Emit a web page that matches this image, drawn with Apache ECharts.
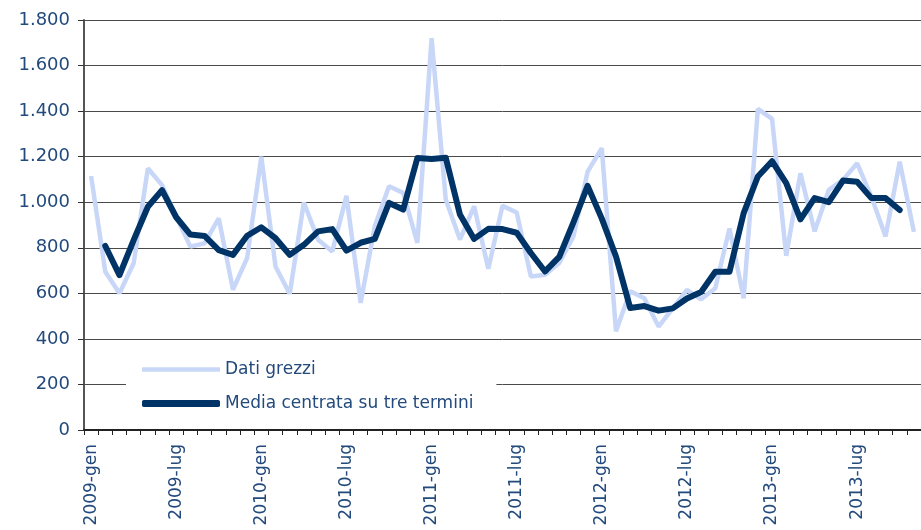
<!DOCTYPE html>
<html>
<head>
<meta charset="utf-8">
<script src="https://cdn.jsdelivr.net/npm/echarts@6/dist/echarts.min.js"></script>
<style>html,body{margin:0;padding:0;background:#fff;}#c{width:921px;height:530px;}</style>
</head>
<body>
<div id="c"></div>
<script>
const months = ['gen','feb','mar','apr','mag','giu','lug','ago','set','ott','nov','dic'];
const years = [2009, 2010, 2011, 2012, 2013];
const categories = [];
years.forEach(y => months.forEach(m => categories.push(y + '-' + m)));
const shownCategories = categories.slice(0, 59);

const rawData = [1115, 695, 600, 732, 1149, 1075, 936, 805, 820, 929,
  616, 755, 1200, 718, 598, 999, 835, 784, 1028, 558,
  895, 1070, 1041, 822, 1720, 1012, 836, 982, 708, 984,
  955, 674, 682, 733, 850, 1134, 1237, 433, 609, 578,
  454, 534, 615, 574, 622, 885, 578, 1410, 1366, 765,
  1127, 872, 1054, 1098, 1171, 1025, 850, 1178, 870];

const avgData = [null, 808, 680, 834, 980, 1053, 934, 858, 852, 790,
  769, 853, 890, 842, 769, 813, 872, 882, 788, 822,
  839, 997, 968, 1194, 1190, 1195, 946, 839, 883, 882,
  866, 777, 696, 760, 912, 1072, 928, 762, 536, 544,
  524, 534, 577, 606, 695, 695, 952, 1113, 1180, 1084,
  925, 1018, 1000, 1095, 1090, 1018, 1018, 966, null];

const yTicks = [0, 200, 400, 600, 800, 1000, 1200, 1400, 1600, 1800];
const seriesNames = ['Dati grezzi', 'Media centrata su tre termini'];

const navy = '#003366';
const light = '#C8D7F8';
const textColor = '#234A7C';
const font = 'DejaVu Sans';

const chart = echarts.init(document.getElementById('c'), null, {renderer: 'canvas'});
chart.setOption({
  animation: false,
  backgroundColor: '#fff',
  grid: {left: 84, top: 20, bottom: 100, right: -14.4, containLabel: false},
  xAxis: {
    type: 'category',
    data: shownCategories,
    boundaryGap: true,
    axisLine: {show: true, lineStyle: {color: '#222', width: 2}},
    axisTick: {show: true, interval: 0, length: 5, lineStyle: {color: '#222', width: 1}},
    axisLabel: {interval: 5, rotate: 90, margin: 14, color: textColor, fontFamily: font, fontSize: 17}
  },
  yAxis: {
    type: 'value',
    min: yTicks[0],
    max: yTicks[yTicks.length - 1],
    interval: 200,
    axisLine: {show: true, lineStyle: {color: '#555', width: 2}},
    axisTick: {show: true, length: 6, lineStyle: {color: '#333', width: 1}},
    axisLabel: {
      margin: 14, color: textColor, fontFamily: font, fontSize: 18,
      formatter: v => v >= 1000 ? Math.floor(v / 1000) + '.' + String(v % 1000).padStart(3, '0') : String(v)
    },
    splitLine: {show: true, lineStyle: {color: '#4a4a4a', width: 1}}
  },
  legend: [
    {
      orient: 'vertical',
      left: 142,
      top: 361,
      padding: 0,
      itemWidth: 78,
      itemHeight: 4.5,
      icon: 'rect',
      itemGap: 3,
      textStyle: {color: textColor, fontFamily: font, fontSize: 17},
      data: [seriesNames[0]]
    },
    {
      orient: 'vertical',
      left: 126,
      top: 377,
      padding: [18, 23, 9, 16],
      backgroundColor: '#fff',
      itemWidth: 78,
      itemHeight: 7,
      icon: 'roundRect',
      textStyle: {color: textColor, fontFamily: font, fontSize: 17},
      data: [seriesNames[1]]
    }
  ],
  series: [
    {
      name: seriesNames[0],
      type: 'line',
      data: rawData,
      symbol: 'none',
      lineStyle: {color: light, width: 4.5},
      itemStyle: {color: light},
      z: 2
    },
    {
      name: seriesNames[1],
      type: 'line',
      data: avgData,
      symbol: 'none',
      connectNulls: false,
      lineStyle: {color: navy, width: 6, cap: 'round', join: 'round'},
      itemStyle: {color: navy},
      z: 3
    }
  ]
});
</script>
</body>
</html>
